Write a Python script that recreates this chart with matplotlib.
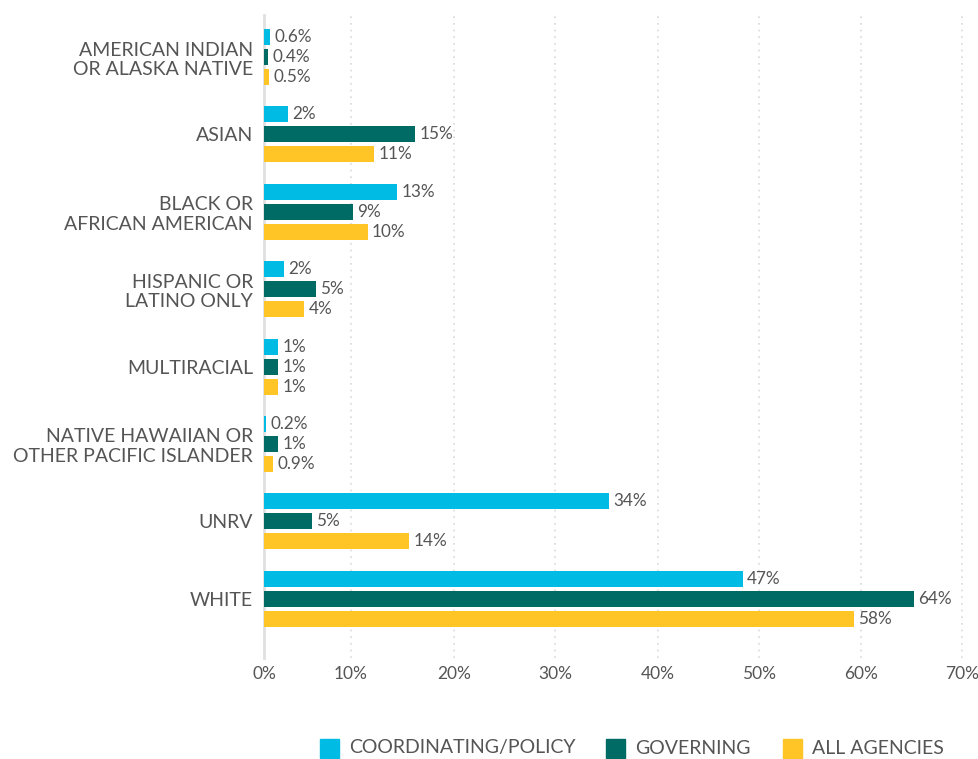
import matplotlib
matplotlib.use("Agg")
import matplotlib.pyplot as plt
from matplotlib.patches import Rectangle

plt.rcParams['font.family'] = ['Lato', 'DejaVu Sans']

categories = [
    "AMERICAN INDIAN\nOR ALASKA NATIVE",
    "ASIAN",
    "BLACK OR\nAFRICAN AMERICAN",
    "HISPANIC OR\nLATINO ONLY",
    "MULTIRACIAL",
    "NATIVE HAWAIIAN OR\nOTHER PACIFIC ISLANDER",
    "UNRV",
    "WHITE",
]
series_names = ["COORDINATING/POLICY", "GOVERNING", "ALL AGENCIES"]
coordinating = [0.6, 2.4, 13.2, 2.0, 1.4, 0.2, 34.2, 47.4]
governing = [0.4, 15.0, 8.8, 5.1, 1.4, 1.4, 4.8, 64.4]
all_agencies = [0.5, 10.9, 10.3, 4.0, 1.4, 0.9, 14.4, 58.4]
x_tick_labels = ["0%", "10%", "20%", "30%", "40%", "50%", "60%", "70%"]

colors = ["#00BCE4", "#006B64", "#FFC425"]
text_color = "#555555"

W, H = 979, 759
fig = plt.figure(figsize=(W / 100, H / 100), dpi=100)

# axes placement in pixels
ax_left, ax_right = 264, 976
ax_top, ax_bottom = 15, 658
px_per_pct = 10.1
group0_px, group_step_px = 57, 77.4

ax = fig.add_axes([ax_left / W, 1 - ax_bottom / H, (ax_right - ax_left) / W, (ax_bottom - ax_top) / H])
ax.set_xlim(0, (ax_right - ax_left) / px_per_pct)
ax.set_ylim((ax_bottom - group0_px) / group_step_px, (ax_top - group0_px) / group_step_px)

bar_h = 16 / group_step_px
offset = 20 / group_step_px
series = [coordinating, governing, all_agencies]


def fmt(v):
    return f"{v:.1f}%" if v < 1 else f"{int(round(v))}%"


for si, (vals, col) in enumerate(zip(series, colors)):
    ys = [i + (si - 1) * offset for i in range(len(categories))]
    ax.barh(ys, vals, height=bar_h, color=col, zorder=3)
    for y, v in zip(ys, vals):
        ax.text(v + 0.4, y, fmt(v), va="center", ha="left", fontsize=12.3,
                color=text_color, zorder=4)

ax.set_yticks(range(len(categories)))
ax.set_yticklabels(categories, fontsize=14, color=text_color, linespacing=1.18)
ax.tick_params(axis="y", length=0, pad=8)

# tick positions as they appear in the reference (offset grid)
tick_px = [264, 351, 454, 555, 658, 759, 861, 962]
ax.set_xticks([(p - ax_left) / px_per_pct for p in tick_px])
ax.set_xticklabels(x_tick_labels, fontsize=12.5, color=text_color)
ax.tick_params(axis="x", length=0, pad=6)

ax.grid(axis="x", color="#d9d9d9", linestyle=(0, (1, 3)), linewidth=1.2, zorder=0)
ax.grid(axis="y", visible=False)
for s in ["top", "right", "bottom"]:
    ax.spines[s].set_visible(False)
ax.spines["left"].set_color("#e0e0e0")
ax.spines["left"].set_linewidth(2)
ax.spines["left"].set_zorder(2)

# legend drawn manually
leg_y = 748
sq = 19
leg_items = [(320, 349), (606, 635), (783, 812)]
for (sx, tx), name, col in zip(leg_items, series_names, colors):
    fig.patches.append(Rectangle((sx / W, 1 - (leg_y + sq / 2) / H), sq / W, sq / H,
                                 transform=fig.transFigure, color=col))
    fig.text(tx / W, 1 - leg_y / H, name, ha="left", va="center", fontsize=14,
             color=text_color)

fig.savefig("out.png", dpi=100)
